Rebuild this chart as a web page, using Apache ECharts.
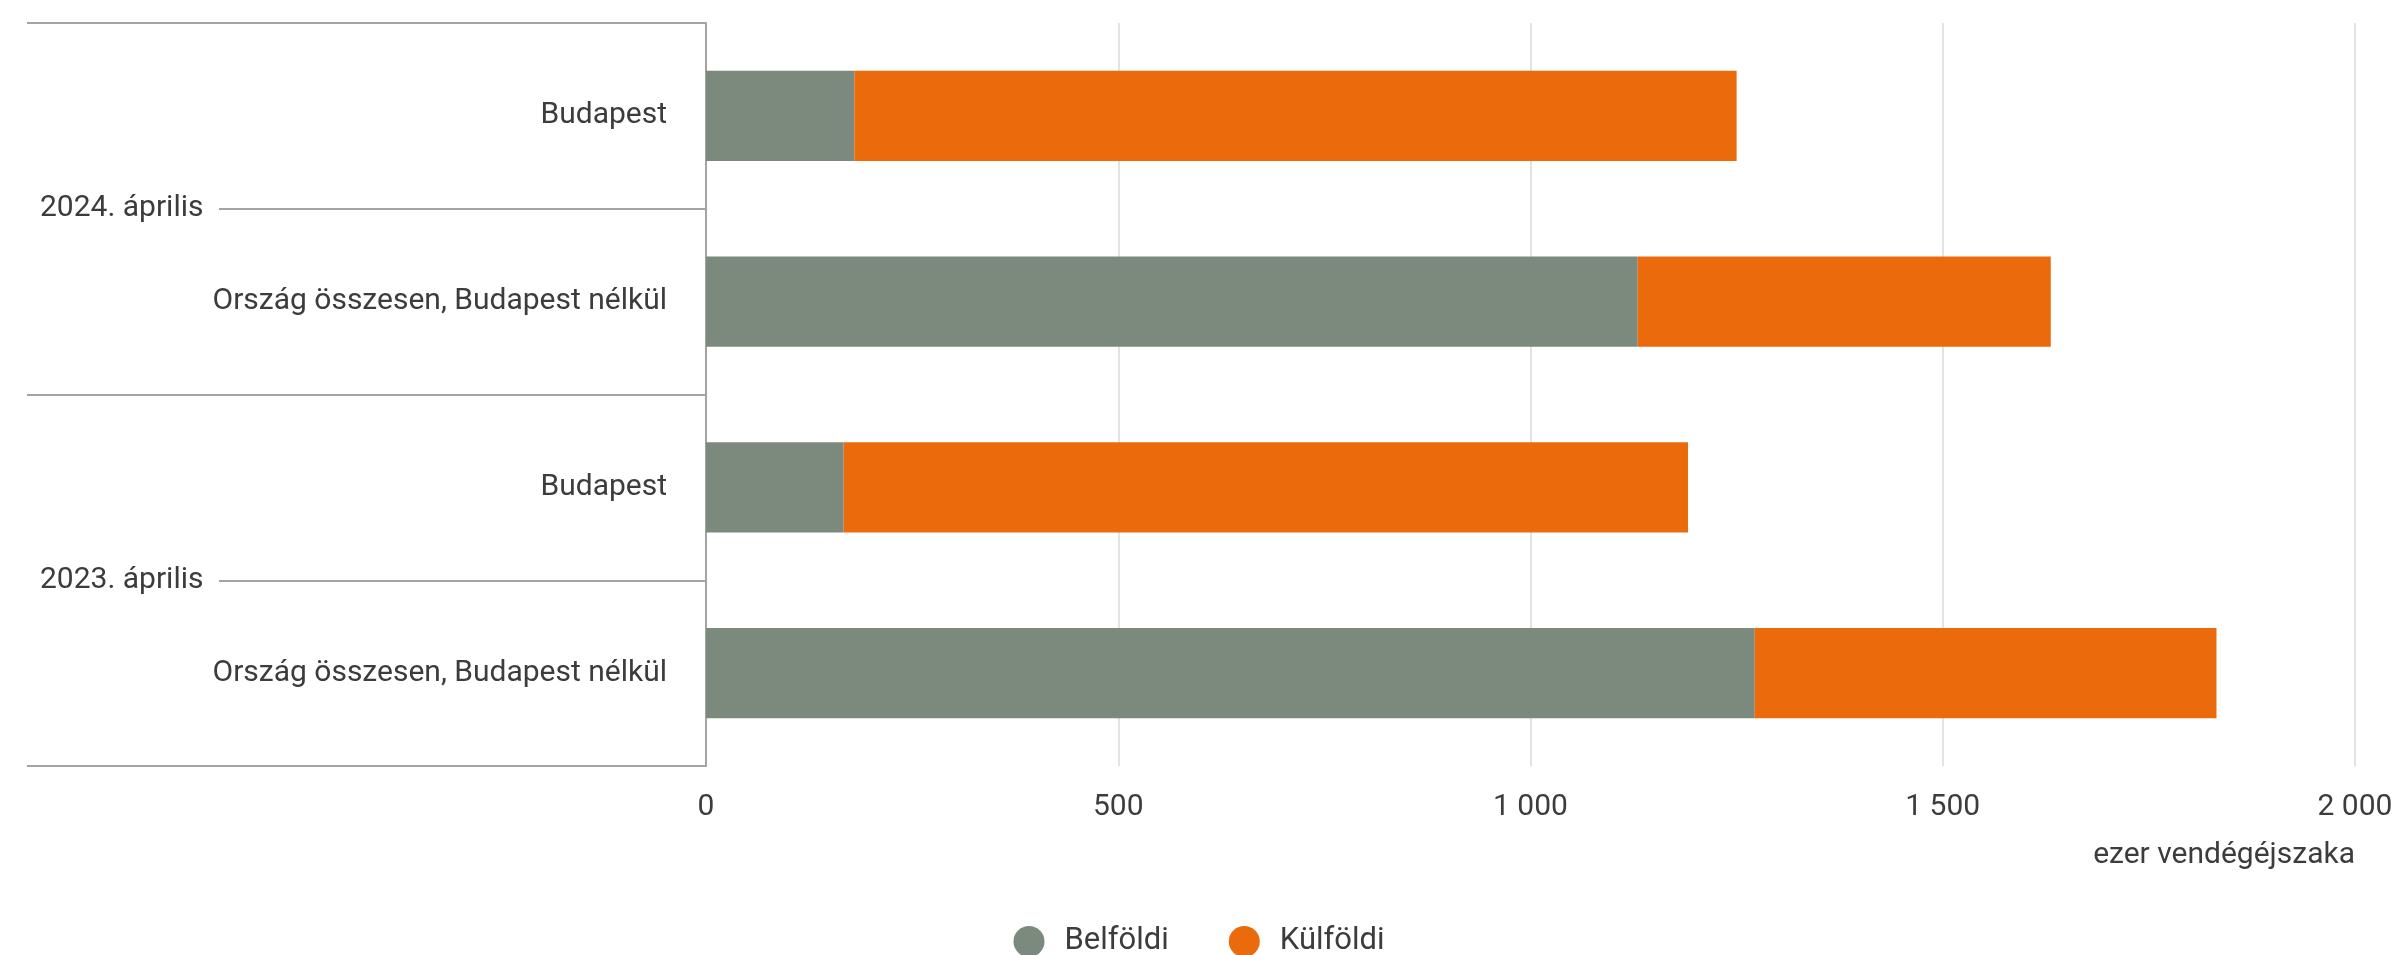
<!DOCTYPE html>
<html>
<head>
<meta charset="utf-8">
<script src="https://cdn.jsdelivr.net/npm/echarts@6/dist/echarts.min.js"></script>
<style>
html,body{margin:0;padding:0;background:#fff;}
#chart{width:2398px;height:955px;}
</style>
</head>
<body>
<div id="chart"></div>
<script>
const categories = ['Budapest', 'Ország összesen, Budapest nélkül', 'Budapest', 'Ország összesen, Budapest nélkül'];
const groups = ['2024. április', '2023. április'];
const belfoldi = [180, 1130, 167, 1272];
const kulfoldi = [1070, 501, 1024, 560];
const seriesNames = ['Belföldi', 'Külföldi'];
const unitLabel = 'ezer vendégéjszaka';

const FONT = 'Roboto';
const TXT = '#3c3c3c';
const LINE = '#a3a3a3';
const FS = 30;

const chart = echarts.init(document.getElementById('chart'));
chart.setOption({
  animation: false,
  textStyle: { fontFamily: FONT },
  title: {
    text: unitLabel,
    right: 43,
    top: 840,
    padding: 0,
    textStyle: { fontFamily: FONT, fontSize: FS, fontWeight: 'normal', color: TXT }
  },
  legend: {
    data: seriesNames,
    left: 'center',
    top: 921,
    icon: 'circle',
    itemWidth: 31,
    itemHeight: 31,
    itemGap: 60,
    textStyle: { fontFamily: FONT, fontSize: 31, color: TXT, padding: [0, 0, 0, 15] }
  },
  grid: { left: 706, right: 43, top: 23, bottom: 189, containLabel: false },
  xAxis: {
    type: 'value',
    min: 0,
    max: 2000,
    interval: 500,
    axisLine: { show: false },
    axisTick: { show: false },
    splitLine: { lineStyle: { color: '#d9d9d9', width: 1.5 } },
    axisLabel: {
      fontFamily: FONT, fontSize: FS, color: TXT, margin: 26,
      formatter: v => String(v).replace(/\B(?=(\d{3})+(?!\d))/g, ' ')
    }
  },
  yAxis: [
    {
      type: 'category',
      data: categories,
      inverse: true,
      position: 'left',
      axisLine: { show: true, lineStyle: { color: LINE, width: 2 } },
      axisTick: { show: false },
      axisLabel: { fontFamily: FONT, fontSize: FS, color: TXT, margin: 39 }
    },
    {
      type: 'category',
      data: groups,
      inverse: true,
      position: 'left',
      axisLine: { show: false },
      axisTick: { show: true, length: 679, lineStyle: { color: LINE, width: 2 } },
      axisLabel: { show: false }
    },
    {
      type: 'category',
      data: groups,
      inverse: true,
      position: 'left',
      axisLine: { show: false },
      axisTick: { show: true, alignWithLabel: true, length: 487, lineStyle: { color: LINE, width: 2 } },
      axisLabel: { fontFamily: FONT, fontSize: FS, color: TXT, margin: 666, align: 'left' }
    }
  ],
  series: [
    {
      name: seriesNames[0],
      type: 'bar',
      stack: 'total',
      yAxisIndex: 0,
      barWidth: '48.5%',
      itemStyle: { color: '#7b8a7c' },
      data: belfoldi
    },
    {
      name: seriesNames[1],
      type: 'bar',
      stack: 'total',
      yAxisIndex: 0,
      barWidth: '48.5%',
      itemStyle: { color: '#eb6a0c' },
      data: kulfoldi
    }
  ]
});
</script>
</body>
</html>
